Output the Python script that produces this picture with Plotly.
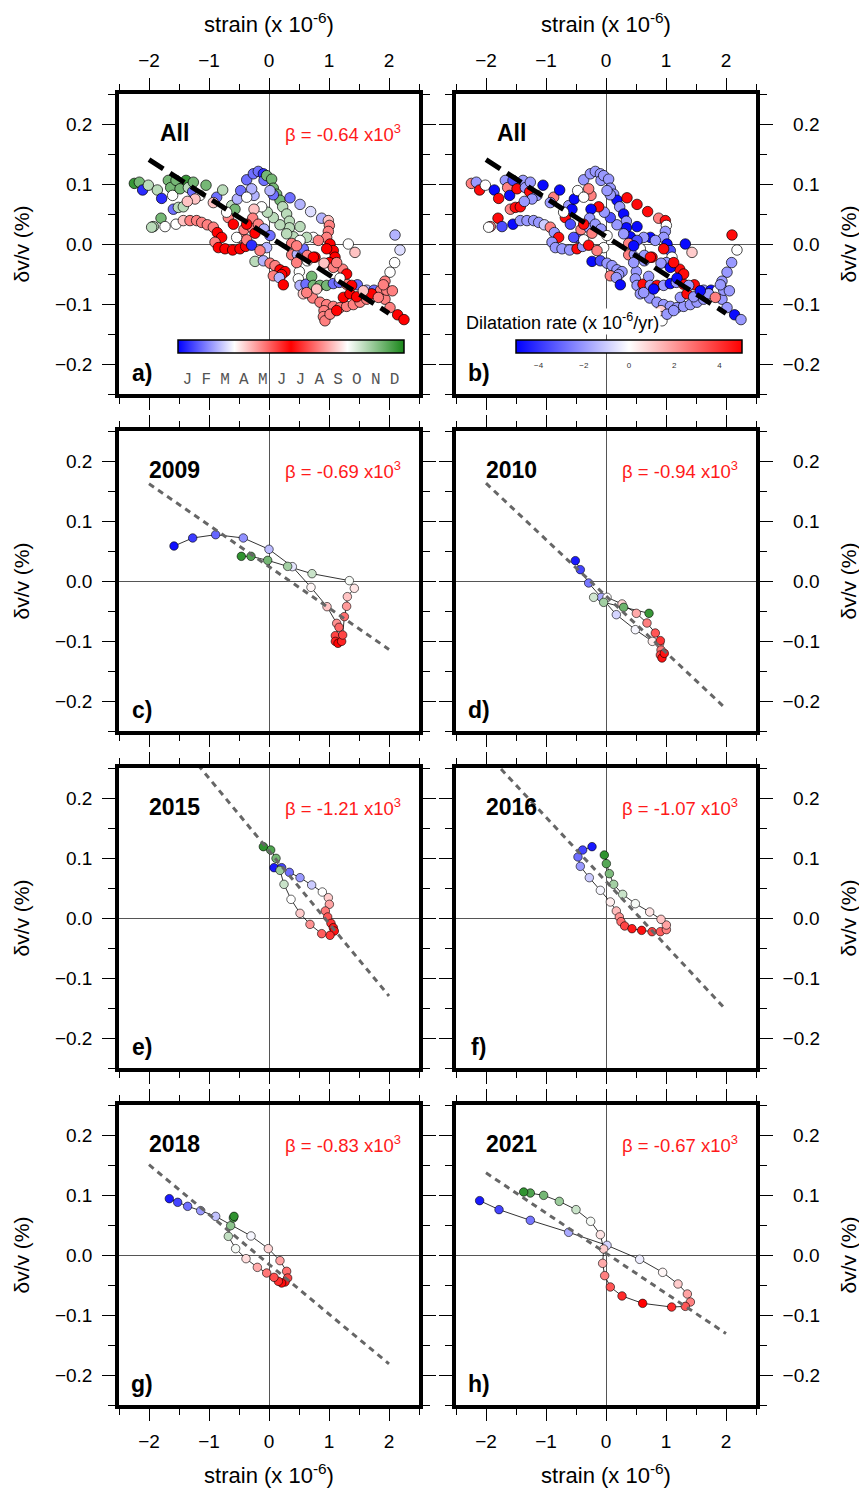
import plotly.graph_objects as go

# ---------------- DATA ----------------
months = ["J", "F", "M", "A", "M", "J", "J", "A", "S", "O", "N", "D"]
month_pos = [0.5, 1.5, 2.5, 3.5, 4.5, 5.5, 6.5, 7.5, 8.5, 9.5, 10.5, 11.5]
rate_ticks = [-4, -2, 0, 2, 4]
y_tickvals = [-0.2, -0.1, 0.0, 0.1, 0.2]
y_ticktext_left = ["−0.2", "−0.1", "0.0", "0.1", "0.2"]
y_ticktext_right = ["−0.2", "−0.1", "\u20070.0", "\u20070.1", "\u20070.2"]
y_minorvals = [-0.25, -0.15, -0.05, 0.05, 0.15, 0.25]

# All years (strain x1e-6, dv/v %, month of year, dilatation rate)
all_x = [-2.244,-2.161,-2.106,-2.011,-1.861,-1.789,-1.678,-1.639,-1.606,-1.550,
 -1.483,-1.383,-1.344,-1.261,-1.272,-1.050,-1.150,-1.233,-1.594,-1.511,
 -1.428,-1.361,-0.872,-0.772,-0.928,-1.800,-1.928,-1.956,-1.733,-1.550,
 -1.428,-1.317,-1.206,-1.122,-1.028,-0.928,-0.861,-0.789,-0.900,-0.844,
 -0.733,-0.606,-0.483,-0.389,-0.472,-0.372,-0.539,-0.417,-0.289,-0.289,
 -0.678,-0.594,-0.622,-0.567,-0.706,-0.528,-0.472,-0.372,-0.261,-0.178,
 -0.094,-0.083,-0.039,0.044,0.072,0.128,0.183,0.228,0.294,0.339,
 0.339,0.183,0.072,-0.028,-0.122,-0.250,-0.289,-0.372,-0.250,-0.272,
 -0.372,-0.178,-0.083,0.017,-0.233,0.072,0.017,0.350,0.517,0.694,
 0.878,0.989,1.006,0.989,0.961,1.017,1.072,1.100,1.006,0.917,
 0.739,0.517,0.406,0.628,0.822,0.961,0.767,0.639,1.322,1.433,
 2.100,2.183,2.094,2.017,1.933,1.906,1.933,2.017,2.144,2.250,
 -0.233,-0.094,0.017,0.100,0.183,0.267,0.211,0.072,0.172,0.239,
 0.506,0.489,0.378,0.472,0.572,0.639,0.739,-0.039,-0.150,0.461,
 0.517,0.617,0.711,0.739,0.850,0.961,1.072,1.172,1.294,1.472,
 1.628,1.750,1.861,1.961,2.056,0.572,0.728,0.850,0.961,1.072,
 1.183,1.294,1.406,1.517,1.628,1.239,1.350,1.461,0.917,0.906,
 0.933,1.017,1.128,1.228,1.294,1.183,1.378,1.711,1.822,1.906,
 1.572,0.794,0.628,1.072,1.128,0.517,0.294,0.378,0.461]
all_y = [0.101,0.103,0.090,0.098,0.090,0.076,0.106,0.094,0.081,0.106,
 0.092,0.106,0.094,0.103,0.087,0.098,0.081,0.075,0.058,0.061,
 0.062,0.071,0.078,0.090,0.069,0.043,0.029,0.028,0.029,0.033,
 0.039,0.039,0.039,0.036,0.032,0.028,0.019,0.011,0.003,-0.006,
 -0.008,-0.010,-0.008,-0.004,0.011,0.007,0.011,0.024,0.028,-0.002,
 0.044,0.033,0.064,0.058,0.053,0.075,0.089,0.107,0.117,0.121,
 0.117,0.106,0.114,0.108,0.093,0.083,0.073,0.062,0.050,0.038,
 0.027,0.032,0.044,0.053,0.062,0.081,0.092,0.078,0.058,0.043,
 0.033,0.033,0.025,0.014,0.018,0.082,0.089,0.077,0.066,0.054,
 0.043,0.039,0.031,0.021,0.011,0.000,-0.011,-0.022,-0.031,-0.032,
 0.011,0.029,0.012,0.011,0.006,-0.008,-0.022,-0.028,0.000,-0.014,
 0.015,-0.010,-0.031,-0.047,-0.062,-0.078,-0.092,-0.106,-0.118,-0.126,
 -0.029,-0.028,-0.032,-0.036,-0.043,-0.046,-0.051,-0.053,-0.056,-0.068,
 -0.046,-0.058,-0.018,-0.017,-0.008,-0.019,-0.022,-0.006,-0.011,-0.031,
 -0.069,-0.067,-0.054,-0.069,-0.069,-0.069,-0.066,-0.064,-0.067,-0.068,
 -0.077,-0.077,-0.077,-0.077,-0.078,-0.083,-0.090,-0.097,-0.101,-0.104,
 -0.106,-0.104,-0.101,-0.097,-0.092,-0.089,-0.083,-0.088,-0.111,-0.121,
 -0.128,-0.117,-0.111,-0.042,-0.050,-0.057,-0.069,-0.083,-0.089,-0.068,
 -0.078,-0.075,-0.081,-0.039,-0.031,0.006,0.017,0.001,-0.003]
all_m = [11.6,10.8,0.5,9.9,9.9,0.5,10.8,10.8,3.0,10.8,
 10.8,11.6,9.9,10.8,1.3,10.8,3.0,3.7,1.3,9.9,
 9.9,3.7,1.3,9.9,3.7,10.8,9.9,9.9,3.0,9.0,
 3.7,4.5,4.5,4.5,4.5,4.5,6.0,6.0,4.5,6.0,
 6.0,6.0,6.0,6.0,4.5,4.5,3.0,4.5,4.5,0.5,
 4.5,6.0,9.9,10.8,9.0,2.1,1.3,1.3,1.3,1.3,
 0.5,1.3,10.8,10.8,10.8,10.8,10.8,9.9,9.9,9.9,
 9.9,9.9,9.9,9.9,9.0,2.1,2.1,3.0,3.7,4.5,
 6.0,4.5,2.1,1.3,6.0,1.3,2.1,1.3,2.1,2.6,
 2.1,3.7,4.5,4.5,4.5,6.0,6.0,6.0,6.0,3.7,
 9.0,9.9,9.9,9.9,4.5,6.0,6.0,3.0,9.0,3.7,
 2.1,2.6,3.0,3.0,4.5,4.5,4.5,4.5,6.0,6.0,
 9.9,2.1,4.5,4.5,6.0,6.0,6.0,4.5,2.1,6.0,
 3.0,3.0,4.5,2.1,1.3,4.5,6.0,2.1,4.5,4.5,
 2.1,1.3,10.8,10.8,10.8,10.8,1.3,1.3,4.5,1.3,
 2.1,1.3,4.5,4.5,4.5,3.7,4.5,4.5,4.5,4.5,
 4.5,4.5,4.5,4.5,4.5,6.0,6.0,6.0,4.5,4.5,
 4.5,4.5,6.0,4.5,6.0,3.0,6.0,6.0,4.5,4.5,
 3.7,3.7,4.5,4.5,4.5,9.0,9.9,4.5,4.5]
all_rate = [2.5,-2.0,4.8,0,-4.8,4.8,-2.0,2.5,-4.8,-3.5,
 4.8,-2.0,-2.0,-2.0,4.8,-4.8,-2.0,-2.0,2.5,4.8,
 4.8,-2.0,2.5,-4.8,-2.0,4.8,2.5,0,-3.5,-4.8,
 -2.0,-2.0,-2.0,-2.0,-1.0,2.5,-2.0,4.8,-2.0,-2.0,
 -2.0,-2.0,4.8,-2.0,-3.5,0,-3.5,2.5,-2.0,4.8,
 4.8,-3.5,-2.0,-4.8,0,-4.8,0,-2.0,-2.0,-2.0,
 -2.0,-2.0,-2.0,-2.0,-2.0,-2.0,-4.8,-2.0,-4.8,-2.0,
 -4.8,-2.0,-3.5,-2.0,4.8,2.5,2.5,0,-4.8,-2.0,
 4.8,-2.0,-2.0,0,2.5,-2.0,-2.0,4.8,4.8,4.8,
 2.5,4.8,0,-2.0,-2.0,-4.8,-3.5,0,-2.0,-2.0,
 -4.8,-4.8,-4.8,-2.0,-2.0,4.8,4.8,-2.0,-4.8,1.0,
 4.8,0,-2.0,-2.0,-2.0,-2.0,-2.0,-2.0,-4.8,-2.0,
 -4.8,-3.5,-2.0,-2.0,-2.0,-2.0,-2.0,2.5,-2.0,-4.8,
 -2.0,-2.0,2.5,-2.0,0,-2.0,4.8,0,2.5,-2.0,
 -2.0,4.8,-2.0,-2.0,4.8,-2.0,-4.8,-2.0,4.8,4.8,
 -2.0,-4.8,0,-2.0,-2.0,-2.0,-2.0,-2.0,-2.0,-2.0,
 -2.0,-2.0,-2.0,-2.0,-2.0,-2.0,4.8,-2.0,1.0,1.0,
 0,-2.0,-2.0,4.8,4.8,-4.8,-2.0,-2.0,2.5,-2.0,
 -4.8,-4.8,-2.0,-4.8,4.8,-3.5,-2.0,2.5,-4.8]

# individual years
y2009_x = [-1.583,-1.272,-0.889,-0.428,0.0,0.389,0.7,0.967,1.128,1.167,1.106,1.106,1.15,
           1.211,1.228,1.256,1.294,1.306,1.422,1.339,0.717,0.311,-0.022,-0.3,-0.461]
y2009_y = [0.0583,0.0717,0.0772,0.0717,0.0528,0.0239,-0.0106,-0.0428,-0.0706,-0.0772,-0.0911,
           -0.1006,-0.1039,-0.1006,-0.09,-0.0594,-0.0422,-0.0261,-0.0122,0.0006,0.0122,0.0244,
           0.0344,0.0411,0.0411]
y2009_m = [0.2,0.7,1.2,1.7,2.2,2.7,3.1,3.7,4.3,4.8,5.2,5.6,6.0,6.4,6.8,7.3,7.8,8.3,8.7,9.1,
           9.7,10.2,10.8,11.3,11.7]

y2010_x = [-0.511,-0.428,-0.289,-0.078,0.172,0.489,0.772,0.894,0.917,0.906,0.933,0.972,0.906,
           0.822,0.683,0.506,0.267,0.017,-0.206,-0.039,0.294,0.717]
y2010_y = [0.0339,0.0189,-0.0033,-0.0272,-0.0561,-0.0811,-0.1006,-0.1039,-0.115,-0.1233,-0.1283,
           -0.1206,-0.0994,-0.0867,-0.07,-0.0539,-0.0383,-0.0272,-0.0272,-0.0356,-0.0439,-0.0539]
y2010_m = [0.3,0.8,1.4,2.0,2.5,2.9,3.2,4.0,4.6,5.2,5.8,6.2,6.6,7.0,7.5,8.0,8.5,9.0,9.6,10.2,
           10.9,11.6]

y2015_x = [0.083,0.211,0.339,0.517,0.711,0.889,0.989,1.006,0.939,0.978,1.033,1.072,1.089,1.017,
           0.878,0.683,0.517,0.367,0.25,0.183,0.117,0.028,-0.094]
y2015_y = [0.0839,0.0839,0.0761,0.0672,0.055,0.0433,0.0339,0.0228,0.0117,0.0017,-0.0089,-0.0161,
           -0.0217,-0.0289,-0.0261,-0.0106,0.0078,0.0311,0.0561,0.0794,0.0994,0.1133,0.1189]
y2015_m = [0.3,0.8,1.3,1.8,2.4,3.0,3.6,4.1,4.6,5.0,5.4,5.8,6.2,6.6,7.1,7.7,8.4,9.0,9.7,10.3,
           10.8,11.3,11.7]

y2016_x = [-0.233,-0.389,-0.467,-0.428,-0.278,-0.094,0.072,0.172,0.222,0.25,0.311,0.433,0.594,
           0.767,0.906,1.006,1.006,0.917,0.728,0.489,0.278,0.128,0.056,0.006,-0.028]
y2016_y = [0.1189,0.1133,0.1017,0.0861,0.0672,0.0461,0.0267,0.0117,0.0017,-0.0061,-0.0133,
           -0.0178,-0.0206,-0.0228,-0.0228,-0.0194,-0.0117,-0.0022,0.01,0.0239,0.0394,0.0561,
           0.0739,0.0906,0.105]
y2016_m = [0.3,0.8,1.3,1.8,2.4,2.9,3.2,3.8,4.3,4.7,5.2,5.7,6.2,6.7,7.1,7.5,7.9,8.3,8.7,9.1,
           9.7,10.2,10.7,11.2,11.7]

y2018_x = [-1.661,-1.522,-1.356,-1.139,-0.889,-0.3,-0.011,0.183,0.294,0.311,0.267,0.211,0.156,
           0.083,-0.039,-0.194,-0.383,-0.556,-0.678,-0.639,-0.594,-0.583]
y2018_y = [0.0939,0.0878,0.0811,0.0739,0.0644,0.0317,0.0106,-0.0094,-0.0272,-0.0383,-0.045,
           -0.0467,-0.0439,-0.0372,-0.03,-0.0206,-0.0061,0.0106,0.0311,0.0489,0.0617,0.0644]
y2018_m = [0.3,0.8,1.3,1.8,2.3,2.9,3.5,4.1,4.7,5.2,5.7,6.1,6.5,6.9,7.4,8.0,8.6,9.1,9.8,10.5,
           11.2,11.7]

y2021_x = [-2.106,-1.783,-1.261,-0.622,0.017,0.561,0.944,1.2,1.356,1.406,1.322,1.094,0.611,
           0.267,0.072,-0.022,-0.056,-0.039,-0.094,-0.256,-0.5,-0.778,-1.039,-1.261,-1.372]
y2021_y = [0.0906,0.0756,0.0578,0.0378,0.0161,-0.0072,-0.0289,-0.0483,-0.065,-0.0783,-0.0856,
           -0.0867,-0.0806,-0.0683,-0.0533,-0.0344,-0.0139,0.01,0.0339,0.0561,0.0756,0.0894,
           0.0994,0.1033,0.105]
y2021_m = [0.3,0.8,1.4,2.0,2.5,2.8,3.1,3.6,4.1,4.5,5.0,5.5,6.0,6.5,7.0,7.5,8.0,8.4,8.7,9.1,
           9.7,10.3,10.8,11.3,11.7]

# regression slopes (beta, % per 1e-6) and intercepts
fit_slope = [-0.064, -0.064, -0.069, -0.094, -0.121, -0.107, -0.083, -0.067]
fit_icpt = [0.0125, 0.0125, 0.024, -0.025, 0.112, 0.061, -0.0155, 0.003]
beta_text = ["-0.64", None, "-0.69", "-0.94", "-1.21", "-1.07", "-0.83", "-0.67"]
panel_title = ["All", "All", "2009", "2010", "2015", "2016", "2018", "2021"]
panel_letter = ["a)", "b)", "c)", "d)", "e)", "f)", "g)", "h)"]
fit_xends = [-2.0, 2.0]

# ---------------- FIGURE ----------------
OFF = 8                       # page body margin of the browser
W, H = 867 - OFF, 1488 - OFF
col_px = [(119 - OFF, 419 - OFF), (456 - OFF, 756 - OFF)]
row_top = [94 - OFF, 431 - OFF, 768 - OFF, 1105 - OFF]
PH = 300
FONT = "Liberation Sans, Arial, Helvetica, sans-serif"

month_scale = [[0, "rgb(0,0,255)"], [0.25, "rgb(255,255,255)"], [0.5, "rgb(255,0,0)"],
               [0.75, "rgb(255,255,255)"], [1, "rgb(25,135,25)"]]
rate_scale = [[0, "rgb(0,0,255)"], [0.5, "rgb(255,255,255)"], [1, "rgb(255,0,0)"]]

years = [None, None,
         (y2009_x, y2009_y, y2009_m), (y2010_x, y2010_y, y2010_m),
         (y2015_x, y2015_y, y2015_m), (y2016_x, y2016_y, y2016_m),
         (y2018_x, y2018_y, y2018_m), (y2021_x, y2021_y, y2021_m)]

fig = go.Figure()
layout = dict(width=W, height=H, margin=dict(l=0, r=0, t=0, b=0),
              paper_bgcolor="white", plot_bgcolor="white", showlegend=False,
              font=dict(family=FONT, size=19, color="black"))
annotations = []

for i in range(8):
    r, c = i // 2, i % 2
    xn = "x" if i == 0 else f"x{i+1}"
    yn = "y" if i == 0 else f"y{i+1}"
    xk = "xaxis" if i == 0 else f"xaxis{i+1}"
    yk = "yaxis" if i == 0 else f"yaxis{i+1}"
    x0, x1 = col_px[c]
    t = row_top[r]
    xdom = [x0 / W, x1 / W]
    ydom = [1 - (t + PH) / H, 1 - t / H]

    xa = dict(domain=xdom, range=[-2.5, 2.5], anchor=yn, tick0=0, dtick=1,
              ticks="outside", ticklen=12, tickwidth=1.2, tickcolor="black",
              minor=dict(tick0=0, dtick=0.5, ticks="outside", ticklen=6, tickwidth=1.2, tickcolor="black"),
              showline=True, linewidth=3.5, linecolor="black", mirror="ticks",
              zeroline=True, zerolinecolor="#555", zerolinewidth=1, showgrid=False,
              tickfont=dict(size=19), ticklabelstandoff=4)
    if r == 0:
        xa.update(side="top", showticklabels=True,
                  title=dict(text="strain (x 10<sup>-6</sup>)", font=dict(size=22), standoff=12))
    elif r == 3:
        xa.update(side="bottom", showticklabels=True,
                  title=dict(text="strain (x 10<sup>-6</sup>)", font=dict(size=22), standoff=19))
    else:
        xa.update(showticklabels=False)
    ya = dict(domain=ydom, range=[-0.25, 0.25], anchor=xn, tickmode="array", tickvals=y_tickvals,
              ticktext=y_ticktext_left if c == 0 else y_ticktext_right,
              ticks="outside", ticklen=13, tickwidth=1.2, tickcolor="black",
              minor=dict(tickmode="array", tickvals=y_minorvals, ticks="outside", ticklen=7,
                         tickwidth=1.2, tickcolor="black"),
              showline=True, linewidth=3.5, linecolor="black", mirror="ticks",
              zeroline=True, zerolinecolor="#555", zerolinewidth=1, showgrid=False,
              side="left" if c == 0 else "right", tickfont=dict(size=19),
              ticklabelstandoff=6,
              title=dict(text="δv/v (%)", font=dict(size=21), standoff=21 if c == 0 else 23))
    layout[xk] = xa
    layout[yk] = ya

    fx = fit_xends
    fy = [fit_icpt[i] + fit_slope[i] * v for v in fx]

    if i < 2:
        ca = "coloraxis" if i == 0 else "coloraxis2"
        cval = all_m if i == 0 else all_rate
        fig.add_trace(go.Scatter(x=all_x, y=all_y, mode="markers", xaxis=xn, yaxis=yn,
                                 marker=dict(size=10.5, color=cval, coloraxis=ca,
                                             line=dict(color="black", width=0.7))))
        fig.add_trace(go.Scatter(x=fx, y=fy, mode="lines", xaxis=xn, yaxis=yn,
                                 line=dict(color="black", width=5, dash="17px,8px")))
    else:
        yx, yy, ym = years[i]
        fig.add_trace(go.Scatter(x=yx, y=yy, mode="lines", xaxis=xn, yaxis=yn,
                                 line=dict(color="black", width=0.8)))
        fig.add_trace(go.Scatter(x=yx, y=yy, mode="markers", xaxis=xn, yaxis=yn,
                                 marker=dict(size=8.5, color=ym, coloraxis="coloraxis",
                                             line=dict(color="black", width=0.6))))
        fig.add_trace(go.Scatter(x=fx, y=fy, mode="lines", xaxis=xn, yaxis=yn,
                                 line=dict(color="#666", width=3, dash="6px,5px")))

    annotations.append(dict(x=-1.57, y=0.185, xref=xn, yref=yn, text=f"<b>{panel_title[i]}</b>",
                            showarrow=False, font=dict(size=23, color="black")))
    annotations.append(dict(x=-2.12, y=-0.215, xref=xn, yref=yn, text=f"<b>{panel_letter[i]}</b>",
                            showarrow=False, font=dict(size=23, color="black")))
    if beta_text[i] is not None:
        annotations.append(dict(x=1.23, y=0.185, xref=xn, yref=yn,
                                text=f"β = {beta_text[i]} x10<sup>3</sup>",
                                showarrow=False, font=dict(size=18.5, color="#ff1a1a")))

annotations.append(dict(x=(464 - OFF) / W, y=1 - (321 - OFF) / H, xref="paper", yref="paper",
                        xanchor="left", yanchor="middle",
                        text="Dilatation rate (x 10<sup>-6</sup>/yr)",
                        showarrow=False, bgcolor="white", font=dict(size=18, color="black")))

cb_top = 1 - (340 - OFF) / H
layout["coloraxis"] = dict(colorscale=month_scale, cmin=0, cmax=12,
                           colorbar=dict(orientation="h", x=(291 - OFF) / W, xanchor="center",
                                         y=cb_top, yanchor="top", len=226, lenmode="pixels",
                                         thickness=13, outlinewidth=1.5, outlinecolor="black",
                                         xpad=0, ypad=0, tickmode="array", tickvals=month_pos,
                                         ticktext=months, ticks="outside", ticklen=12,
                                         tickcolor="rgba(0,0,0,0)",
                                         tickfont=dict(family="Liberation Mono, Courier New, monospace",
                                                       size=16, color="#555")))
layout["coloraxis2"] = dict(colorscale=rate_scale, cmin=-5, cmax=5,
                            colorbar=dict(orientation="h", x=(629 - OFF) / W, xanchor="center",
                                          y=cb_top, yanchor="top", len=226, lenmode="pixels",
                                          thickness=13, outlinewidth=1.5, outlinecolor="black",
                                          xpad=0, ypad=0, tickmode="array", tickvals=rate_ticks,
                                          ticks="outside", ticklen=5, tickcolor="rgba(0,0,0,0)",
                                          tickfont=dict(size=8, color="#333")))
layout["annotations"] = annotations
fig.update_layout(**layout)
fig.write_html("out.html")
